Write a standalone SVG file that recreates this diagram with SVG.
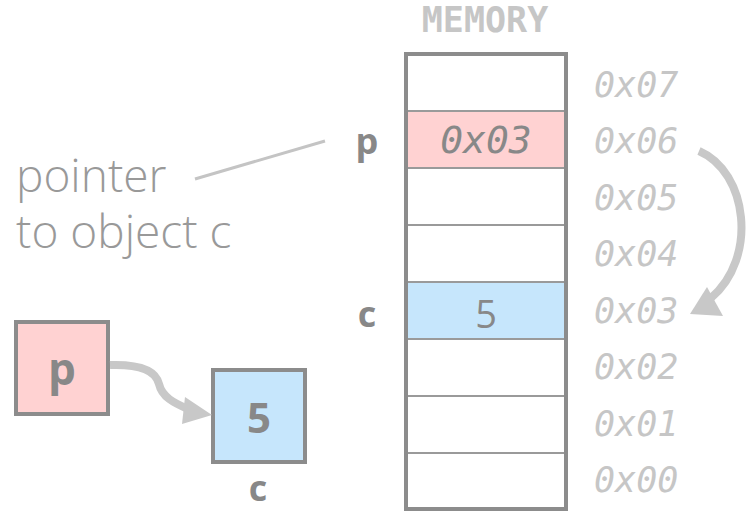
<svg xmlns="http://www.w3.org/2000/svg" width="750" height="512" viewBox="0 0 750 512">
  <style>
    .frame { stroke: #8c8c8c; stroke-width: 4; }
    .sep { stroke: #9a9a9a; stroke-width: 2; }
    .pink { fill: #ffd2d2; }
    .blue { fill: #c6e6fc; }
    .addr { font-family: "DejaVu Sans Mono", "Liberation Mono", monospace; font-style: italic; font-size: 35px; fill: #c6c6c6; }
    .val { font-family: "DejaVu Sans Mono", "Liberation Mono", monospace; font-style: italic; font-size: 38px; fill: #888888; }
    .title { font-family: "DejaVu Sans Mono", "Liberation Mono", monospace; font-weight: bold; font-size: 35px; fill: #c6c6c6; }
    .name { font-family: "Open Sans", "Liberation Sans", sans-serif; font-weight: bold; fill: #888888; }
    .num { font-family: "Open Sans", "Liberation Sans", sans-serif; fill: #888888; }
    .note { font-family: "Open Sans", "Liberation Sans", sans-serif; font-weight: 300; font-size: 46px; fill: #999999; }
    .conn { fill: none; stroke: #c8c8c8; stroke-width: 8; }
    .head { fill: #c8c8c8; }
  </style>

  <!-- memory column -->
  <g id="memory">
    <text class="title" x="485" y="32" text-anchor="middle">MEMORY</text>
    <rect class="pink" x="406" y="111" width="160" height="57"/>
    <rect class="blue" x="406" y="282" width="160" height="57"/>
    <g class="sep">
      <line x1="406" y1="111" x2="566" y2="111"/>
      <line x1="406" y1="168" x2="566" y2="168"/>
      <line x1="406" y1="225" x2="566" y2="225"/>
      <line x1="406" y1="282" x2="566" y2="282"/>
      <line x1="406" y1="339" x2="566" y2="339"/>
      <line x1="406" y1="396" x2="566" y2="396"/>
      <line x1="406" y1="453" x2="566" y2="453"/>
    </g>
    <rect class="frame" x="406" y="54" width="160" height="455" fill="none"/>
  </g>

  <g id="cell-p">
    <text class="val" x="486" y="153" text-anchor="middle">0x03</text>
    <text class="name" x="367" y="154" font-size="36" text-anchor="middle">p</text>
  </g>

  <g id="cell-c">
    <text class="num" x="486" y="328" font-size="38" text-anchor="middle">5</text>
    <text class="name" x="367" y="327" font-size="36" text-anchor="middle">c</text>
  </g>

  <!-- addresses -->
  <g id="addresses">
    <text class="addr" x="594" y="97">0x07</text>
    <text class="addr" x="594" y="153">0x06</text>
    <text class="addr" x="594" y="210">0x05</text>
    <text class="addr" x="594" y="266">0x04</text>
    <text class="addr" x="594" y="323">0x03</text>
    <text class="addr" x="594" y="379">0x02</text>
    <text class="addr" x="594" y="436">0x01</text>
    <text class="addr" x="594" y="492">0x00</text>
  </g>

  <!-- annotation -->
  <g id="note">
    <text class="note" x="16" y="192">pointer</text>
    <text class="note" x="16" y="248">to object c</text>
  </g>

  <!-- small boxes -->
  <g id="box-p">
    <rect class="frame pink" x="16" y="322" width="92" height="92"/>
    <text class="name" x="62" y="385" font-size="44" text-anchor="middle">p</text>
  </g>
  <g id="box-c">
    <rect class="frame blue" x="213" y="370" width="92" height="92"/>
    <text class="name" x="259" y="433" font-size="42" text-anchor="middle">5</text>
    <text class="name" x="258" y="501" font-size="36" text-anchor="middle">c</text>
  </g>

  <!-- connectors -->
  <g id="connectors">
    <line x1="195" y1="179" x2="325" y2="141" stroke="#c4c4c4" stroke-width="3"/>
    <path class="conn" d="M699,151 C748,172 758,258 711,298"/>
    <polygon class="head" points="690,314 707,287 723,316"/>
    <path class="conn" d="M110,365 C140,364 156,371 159,384 C162,397 174,403 188,409"/>
    <polygon class="head" points="212,415 185,397 182,424"/>
  </g>
</svg>
